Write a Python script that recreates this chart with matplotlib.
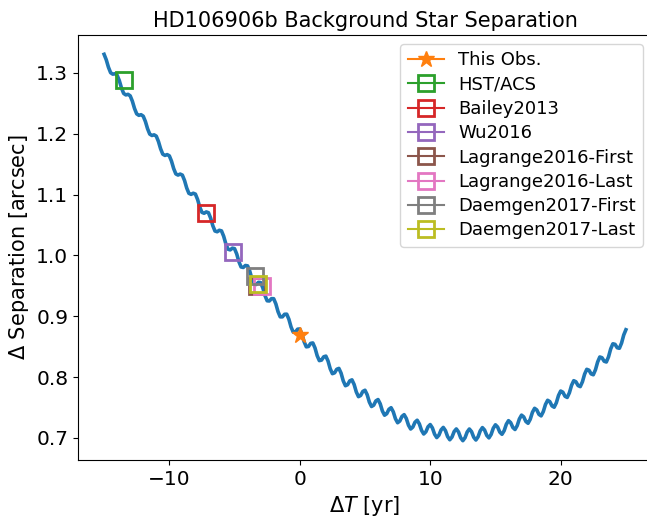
import numpy as np
import matplotlib
matplotlib.use("Agg")
from matplotlib import pyplot as plt
from matplotlib.ticker import MultipleLocator

# predicted background-star separation track, 6 samples per year from -15 to 25 yr
dt_start = -15.0
dt_end = 25.0
sep_track = [
    1.3307, 1.3217, 1.3095, 1.3005, 1.2981, 1.2988,
    1.2964, 1.2875, 1.2753, 1.2664, 1.2640, 1.2649,
    1.2625, 1.2537, 1.2416, 1.2328, 1.2304, 1.2314,
    1.2290, 1.2203, 1.2083, 1.1995, 1.1973, 1.1983,
    1.1962, 1.1874, 1.1753, 1.1665, 1.1645, 1.1658,
    1.1639, 1.1551, 1.1429, 1.1341, 1.1322, 1.1338,
    1.1321, 1.1233, 1.1109, 1.1022, 1.1005, 1.1023,
    1.1009, 1.0921, 1.0796, 1.0709, 1.0694, 1.0716,
    1.0703, 1.0615, 1.0490, 1.0402, 1.0390, 1.0414,
    1.0404, 1.0316, 1.0190, 1.0103, 1.0092, 1.0120,
    1.0112, 1.0025, 0.9898, 0.9811, 0.9803, 0.9835,
    0.9829, 0.9742, 0.9615, 0.9528, 0.9523, 0.9558,
    0.9554, 0.9468, 0.9341, 0.9255, 0.9252, 0.9290,
    0.9289, 0.9204, 0.9076, 0.8991, 0.8991, 0.9033,
    0.9035, 0.8951, 0.8823, 0.8739, 0.8742, 0.8788,
    0.8792, 0.8709, 0.8582, 0.8498, 0.8504, 0.8554,
    0.8562, 0.8480, 0.8353, 0.8271, 0.8280, 0.8334,
    0.8345, 0.8265, 0.8138, 0.8057, 0.8070, 0.8129,
    0.8143, 0.8065, 0.7938, 0.7859, 0.7875, 0.7939,
    0.7955, 0.7879, 0.7756, 0.7679, 0.7698, 0.7765,
    0.7784, 0.7711, 0.7590, 0.7517, 0.7539, 0.7609,
    0.7631, 0.7561, 0.7443, 0.7374, 0.7399, 0.7471,
    0.7497, 0.7430, 0.7316, 0.7250, 0.7278, 0.7354,
    0.7383, 0.7320, 0.7210, 0.7147, 0.7179, 0.7259,
    0.7291, 0.7231, 0.7125, 0.7065, 0.7101, 0.7184,
    0.7220, 0.7165, 0.7062, 0.7006, 0.7046, 0.7133,
    0.7173, 0.7121, 0.7022, 0.6970, 0.7014, 0.7105,
    0.7148, 0.7099, 0.7003, 0.6955, 0.7003, 0.7098,
    0.7147, 0.7104, 0.7012, 0.6966, 0.7018, 0.7117,
    0.7170, 0.7130, 0.7042, 0.7001, 0.7057, 0.7160,
    0.7216, 0.7179, 0.7096, 0.7060, 0.7119, 0.7225,
    0.7284, 0.7252, 0.7172, 0.7139, 0.7202, 0.7312,
    0.7375, 0.7346, 0.7270, 0.7241, 0.7307, 0.7421,
    0.7487, 0.7461, 0.7388, 0.7363, 0.7433, 0.7550,
    0.7619, 0.7597, 0.7527, 0.7505, 0.7578, 0.7698,
    0.7771, 0.7752, 0.7685, 0.7666, 0.7742, 0.7865,
    0.7941, 0.7924, 0.7861, 0.7844, 0.7923, 0.8049,
    0.8128, 0.8114, 0.8053, 0.8039, 0.8121, 0.8249,
    0.8331, 0.8319, 0.8261, 0.8249, 0.8333, 0.8464,
    0.8548, 0.8539, 0.8483, 0.8474, 0.8560, 0.8693,
    0.8779,
]
dt_track = np.linspace(dt_start, dt_end, len(sep_track))

# measured epochs
obs_labels = ["This Obs.", "HST/ACS", "Bailey2013", "Wu2016",
              "Lagrange2016-First", "Lagrange2016-Last",
              "Daemgen2017-First", "Daemgen2017-Last"]
obs_dt = [0.0, -13.44, -7.18, -5.13, -3.29, -2.91, -3.42, -3.21]
obs_sep = [0.870, 1.288, 1.070, 1.006, 0.950, 0.950, 0.966, 0.953]
obs_colors = ["C1", "C2", "C3", "C4", "C5", "C6", "C7", "C8"]

fig = plt.figure(figsize=(6.47, 5.19), dpi=100)
# axes runs past the right edge of the picture, as in the original crop
ax = fig.add_axes([78/647, 59/519, 574/647, 425/519])

ax.plot(dt_track, sep_track, color="C0", lw=2.6)

for lab, x, y, c in zip(obs_labels, obs_dt, obs_sep, obs_colors):
    if lab == "This Obs.":
        ax.plot([x], [y], marker="*", color=c, ms=12, label=lab)
    else:
        ax.plot([x], [y], marker="s", color=c, ms=11, mew=2,
                mfc="none", label=lab)

ax.xaxis.set_major_locator(MultipleLocator(10))
ax.yaxis.set_major_locator(MultipleLocator(0.1))
ax.set_title("HD106906b Background Star Separation", fontsize=15)
ax.set_xlabel(r"$\Delta T$ [yr]", fontsize=15)
ax.set_ylabel(r"$\Delta$ Separation [arcsec]", fontsize=15)
ax.tick_params(labelsize=14.5)
ax.legend(loc="upper right", fontsize=13, labelspacing=0.35)

fig.savefig("out.png", dpi=100)
